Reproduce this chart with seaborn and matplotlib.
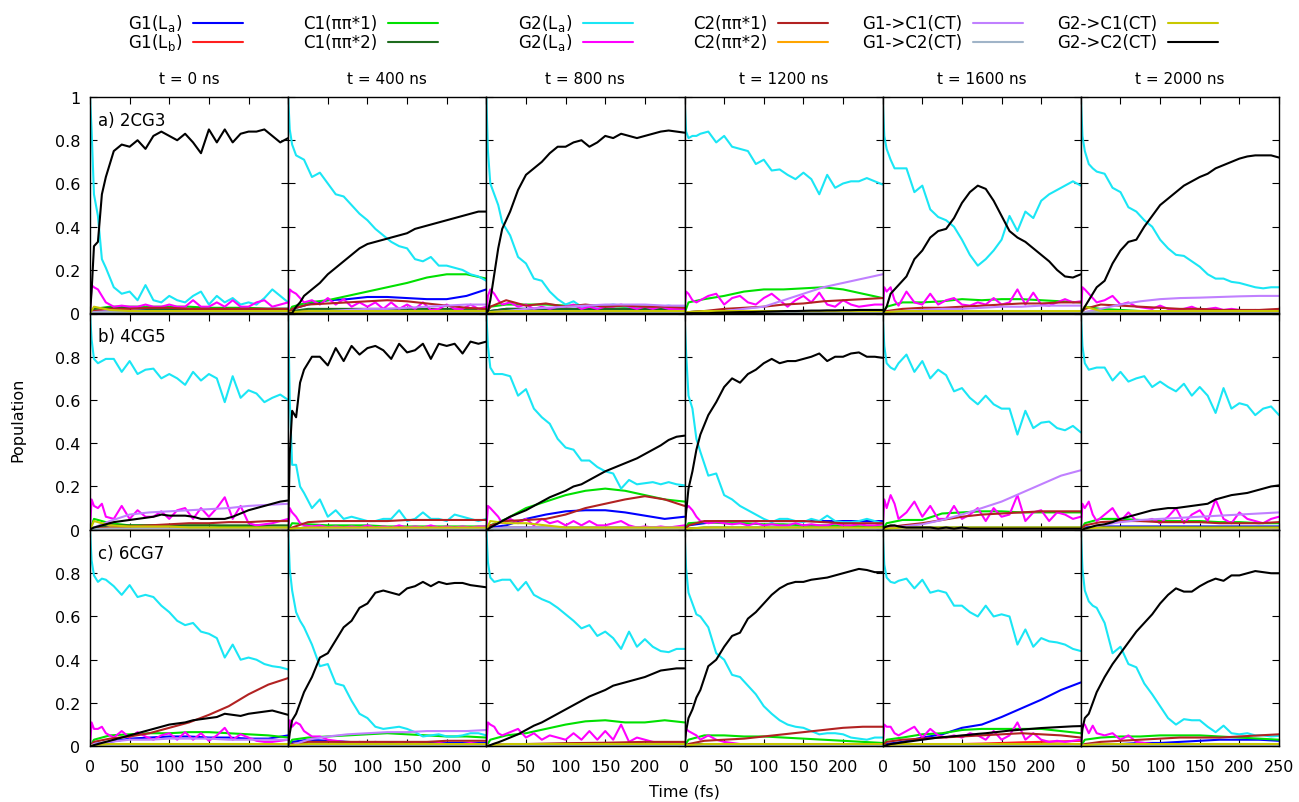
import matplotlib
matplotlib.use("Agg")
import matplotlib.pyplot as plt
import seaborn as sns
import pandas as pd
from matplotlib.lines import Line2D

# ---------------- data ----------------
T_FINE = [0, 2, 5, 10, 15, 20, 30, 40, 50, 60, 70, 80, 90, 100, 110, 120, 130,
          140, 150, 160, 170, 180, 190, 200, 210, 220, 230, 240, 250]
T_COARSE = [0, 5, 25, 50, 75, 100, 125, 150, 175, 200, 225, 250]

COL_TITLES = ["t = 0 ns", "t = 400 ns", "t = 800 ns", "t = 1200 ns", "t = 1600 ns", "t = 2000 ns"]
ROW_LABELS = ["a) 2CG3", "b) 4CG5", "c) 6CG7"]
X_TICKS = [0, 50, 100, 150, 200, 250]
Y_TICKS = [0, 0.2, 0.4, 0.6, 0.8, 1.0]
Y_TICK_LABELS = ["0", "0.2", "0.4", "0.6", "0.8", "1"]

KEYS = ["G1La", "G1Lb", "C1a", "C1b", "G2La", "G2Lb", "C2a", "C2b", "G1C1", "G1C2", "G2C1", "G2C2"]
LABELS = [r"G1(L$_\mathrm{a}$)", r"G1(L$_\mathrm{b}$)", "C1(\u03c0\u03c0*1)", "C1(\u03c0\u03c0*2)",
          r"G2(L$_\mathrm{a}$)", r"G2(L$_\mathrm{a}$)", "C2(\u03c0\u03c0*1)", "C2(\u03c0\u03c0*2)",
          "G1->C1(CT)", "G1->C2(CT)", "G2->C1(CT)", "G2->C2(CT)"]
COLORS = ["#0000ff", "#ff1f1f", "#00e000", "#1e6b1e", "#1ae6f5", "#ff00ff",
          "#b22222", "#ffa500", "#c080ff", "#a0b4c8", "#c8c800", "#000000"]
FINE_KEYS = {"G2La", "G2Lb", "G2C2"}

FLAT_005 = [0, 0.003, 0.005, 0.005, 0.005, 0.005, 0.005, 0.005, 0.005, 0.005, 0.005, 0.005]
FLAT_01 = [0, 0.005, 0.01, 0.01, 0.01, 0.01, 0.01, 0.01, 0.01, 0.01, 0.01, 0.01]
FLAT_02 = [0, 0.01, 0.02, 0.02, 0.02, 0.02, 0.02, 0.02, 0.02, 0.02, 0.02, 0.02]
DEFAULTS = {"G1La": FLAT_005, "G1Lb": FLAT_005, "C1a": FLAT_02, "C1b": FLAT_01,
            "C2a": FLAT_02, "C2b": FLAT_005, "G1C1": FLAT_01, "G1C2": FLAT_005, "G2C1": FLAT_01}

# ---- row a, t = 0 ns
a0_G2La = [1.0, 0.85, 0.55, 0.45, 0.25, 0.21, 0.12, 0.09, 0.10, 0.06, 0.13, 0.06, 0.05, 0.08, 0.06, 0.05,
           0.08, 0.10, 0.04, 0.08, 0.05, 0.07, 0.04, 0.05, 0.04, 0.07, 0.11, 0.08, 0.05]
a0_G2C2 = [0, 0.10, 0.31, 0.33, 0.55, 0.63, 0.75, 0.78, 0.77, 0.80, 0.76, 0.82, 0.84, 0.82, 0.80, 0.83,
           0.79, 0.74, 0.85, 0.79, 0.85, 0.79, 0.83, 0.84, 0.84, 0.85, 0.82, 0.79, 0.81]
a0_G2Lb = [0, 0.13, 0.12, 0.11, 0.08, 0.05, 0.03, 0.035, 0.03, 0.03, 0.04, 0.03, 0.03, 0.04, 0.03, 0.03,
           0.06, 0.03, 0.03, 0.05, 0.03, 0.06, 0.03, 0.03, 0.05, 0.06, 0.03, 0.04, 0.05]
a0_G1La = [0, 0.005, 0.01, 0.01, 0.015, 0.015, 0.015, 0.02, 0.02, 0.02, 0.02, 0.02]
a0_C1a = [0, 0.02, 0.03, 0.03, 0.03, 0.03, 0.03, 0.025, 0.025, 0.025, 0.02, 0.02]
a0_C1b = [0, 0.02, 0.025, 0.025, 0.02, 0.02, 0.02, 0.02, 0.02, 0.02, 0.02, 0.02]
a0_C2a = [0, 0.01, 0.02, 0.02, 0.025, 0.025, 0.02, 0.02, 0.02, 0.02, 0.02, 0.02]
a0_G2C1 = [0, 0.03, 0.015, 0.01, 0.01, 0.01, 0.01, 0.01, 0.01, 0.01, 0.01, 0.01]

# ---- row a, t = 400 ns
a1_G2La = [1.0, 0.85, 0.78, 0.73, 0.72, 0.71, 0.63, 0.65, 0.60, 0.55, 0.54, 0.50, 0.46, 0.43, 0.39, 0.36,
           0.33, 0.31, 0.30, 0.25, 0.24, 0.26, 0.22, 0.22, 0.21, 0.20, 0.18, 0.17, 0.15]
a1_G2C2 = [0, 0, 0, 0.03, 0.05, 0.08, 0.11, 0.14, 0.18, 0.21, 0.24, 0.27, 0.30, 0.32, 0.33, 0.34,
           0.35, 0.36, 0.37, 0.39, 0.40, 0.41, 0.42, 0.43, 0.44, 0.45, 0.46, 0.47, 0.47]
a1_G2Lb = [0, 0.11, 0.10, 0.09, 0.07, 0.05, 0.06, 0.04, 0.07, 0.04, 0.065, 0.03, 0.05, 0.03, 0.05, 0.02,
           0.05, 0.02, 0.04, 0.02, 0.05, 0.015, 0.02, 0.04, 0.02, 0.02, 0.04, 0.02, 0.03]
a1_G1La = [0, 0.02, 0.04, 0.06, 0.065, 0.075, 0.075, 0.07, 0.065, 0.065, 0.08, 0.11]
a1_G1Lb = FLAT_01
a1_C1a = [0, 0.03, 0.05, 0.06, 0.08, 0.10, 0.12, 0.14, 0.165, 0.18, 0.18, 0.16]
a1_C1b = FLAT_02
a1_C2a = [0, 0.02, 0.04, 0.045, 0.05, 0.055, 0.06, 0.055, 0.045, 0.035, 0.025, 0.02]
a1_G1C1 = [0, 0.002, 0.005, 0.01, 0.015, 0.02, 0.02, 0.025, 0.03, 0.035, 0.04, 0.04]

# ---- row a, t = 800 ns
a2_G2La = [1.0, 0.75, 0.60, 0.55, 0.50, 0.42, 0.36, 0.26, 0.23, 0.16, 0.15, 0.10, 0.065, 0.04, 0.055, 0.03,
           0.035, 0.03, 0.035, 0.04, 0.035, 0.03, 0.03, 0.03, 0.035, 0.03, 0.035, 0.03, 0.03]
a2_G2C2 = [0, 0.01, 0.06, 0.18, 0.30, 0.39, 0.47, 0.57, 0.64, 0.67, 0.70, 0.74, 0.77, 0.77, 0.79, 0.80,
           0.77, 0.79, 0.82, 0.81, 0.83, 0.82, 0.81, 0.82, 0.83, 0.84, 0.845, 0.84, 0.835]
a2_G2Lb = [0, 0.08, 0.11, 0.09, 0.06, 0.04, 0.05, 0.03, 0.04, 0.02, 0.03, 0.02, 0.03, 0.03, 0.04, 0.02,
           0.03, 0.02, 0.03, 0.03, 0.04, 0.03, 0.02, 0.03, 0.02, 0.03, 0.02, 0.02, 0.02]
a2_G1La = [0, 0.01, 0.02, 0.02, 0.02, 0.02, 0.02, 0.02, 0.02, 0.015, 0.015, 0.015]
a2_G1Lb = FLAT_01
a2_C1a = [0, 0.03, 0.04, 0.04, 0.04, 0.035, 0.035, 0.035, 0.03, 0.03, 0.03, 0.03]
a2_C1b = FLAT_02
a2_C2a = [0, 0.03, 0.06, 0.035, 0.045, 0.03, 0.04, 0.03, 0.035, 0.03, 0.03, 0.025]
a2_G1C1 = [0, 0.005, 0.01, 0.02, 0.025, 0.03, 0.035, 0.04, 0.04, 0.04, 0.035, 0.035]

# ---- row a, t = 1200 ns
a3_G2La = [1.0, 0.84, 0.81, 0.82, 0.82, 0.83, 0.84, 0.79, 0.82, 0.77, 0.76, 0.75, 0.69, 0.71, 0.66, 0.665,
           0.64, 0.62, 0.65, 0.62, 0.55, 0.64, 0.58, 0.60, 0.61, 0.61, 0.625, 0.61, 0.595]
a3_G2C2 = [0, 0, 0, 0, 0, 0, 0, 0.002, 0.003, 0.004, 0.005, 0.005, 0.006, 0.007, 0.008, 0.009,
           0.01, 0.01, 0.011, 0.012, 0.012, 0.013, 0.013, 0.014, 0.014, 0.015, 0.015, 0.015, 0.015]
a3_G2Lb = [0, 0.10, 0.09, 0.06, 0.05, 0.06, 0.08, 0.09, 0.04, 0.07, 0.08, 0.05, 0.04, 0.07, 0.09, 0.06,
           0.03, 0.06, 0.08, 0.05, 0.095, 0.04, 0.03, 0.06, 0.04, 0.03, 0.035, 0.04, 0.04]
a3_C1a = [0, 0.05, 0.065, 0.08, 0.10, 0.11, 0.11, 0.115, 0.12, 0.11, 0.09, 0.07]
a3_C2a = [0, 0.005, 0.01, 0.02, 0.025, 0.03, 0.04, 0.045, 0.055, 0.06, 0.065, 0.07]
a3_G1C1 = [0, 0.002, 0.005, 0.01, 0.02, 0.03, 0.06, 0.09, 0.12, 0.14, 0.16, 0.18]

# ---- row a, t = 1600 ns
a4_G2La = [1.0, 0.82, 0.76, 0.71, 0.67, 0.67, 0.67, 0.56, 0.59, 0.48, 0.445, 0.43, 0.40, 0.34, 0.27, 0.22,
           0.25, 0.29, 0.34, 0.45, 0.38, 0.47, 0.44, 0.52, 0.55, 0.57, 0.59, 0.61, 0.59]
a4_G2C2 = [0, 0.01, 0.03, 0.09, 0.11, 0.13, 0.17, 0.25, 0.29, 0.35, 0.38, 0.39, 0.44, 0.51, 0.56, 0.59,
           0.575, 0.52, 0.45, 0.38, 0.35, 0.33, 0.30, 0.27, 0.24, 0.20, 0.17, 0.165, 0.18]
a4_G2Lb = [0, 0.12, 0.10, 0.12, 0.06, 0.035, 0.10, 0.05, 0.04, 0.09, 0.04, 0.06, 0.07, 0.04, 0.035, 0.05,
           0.04, 0.07, 0.04, 0.05, 0.11, 0.04, 0.095, 0.04, 0.035, 0.05, 0.065, 0.05, 0.055]
a4_C1a = [0, 0.03, 0.05, 0.05, 0.055, 0.065, 0.06, 0.065, 0.065, 0.06, 0.055, 0.05]
a4_C2a = [0, 0.01, 0.02, 0.025, 0.025, 0.03, 0.035, 0.04, 0.045, 0.045, 0.05, 0.05]
a4_G1C1 = [0, 0.005, 0.01, 0.015, 0.02, 0.02, 0.025, 0.03, 0.03, 0.035, 0.035, 0.035]

# ---- row a, t = 2000 ns
a5_G2La = [1.0, 0.82, 0.75, 0.69, 0.67, 0.655, 0.645, 0.58, 0.56, 0.49, 0.47, 0.43, 0.40, 0.34, 0.30, 0.27,
           0.265, 0.24, 0.215, 0.18, 0.16, 0.16, 0.145, 0.14, 0.13, 0.12, 0.115, 0.12, 0.12]
a5_G2C2 = [0, 0.01, 0.03, 0.06, 0.09, 0.12, 0.15, 0.23, 0.29, 0.33, 0.34, 0.40, 0.45, 0.50, 0.53, 0.56,
           0.59, 0.61, 0.63, 0.645, 0.67, 0.685, 0.70, 0.715, 0.725, 0.73, 0.73, 0.73, 0.72]
a5_G2Lb = [0, 0.12, 0.11, 0.09, 0.07, 0.05, 0.06, 0.08, 0.04, 0.05, 0.03, 0.025, 0.02, 0.035, 0.02, 0.015,
           0.02, 0.03, 0.015, 0.02, 0.025, 0.015, 0.02, 0.015, 0.01, 0.015, 0.01, 0.015, 0.01]
a5_C1a = [0, 0.03, 0.02, 0.015, 0.01, 0.01, 0.01, 0.01, 0.01, 0.01, 0.01, 0.01]
a5_C2a = [0, 0.02, 0.04, 0.035, 0.03, 0.025, 0.02, 0.02, 0.015, 0.015, 0.015, 0.02]
a5_G1C1 = [0, 0.005, 0.02, 0.04, 0.055, 0.065, 0.07, 0.072, 0.075, 0.078, 0.08, 0.08]
a5_G2C1 = [0, 0.03, 0.01, 0.01, 0.01, 0.01, 0.01, 0.01, 0.01, 0.01, 0.01, 0.01]

# ---- row b, t = 0 ns
b0_G2La = [1.0, 0.88, 0.79, 0.77, 0.78, 0.79, 0.79, 0.73, 0.78, 0.72, 0.74, 0.745, 0.70, 0.72, 0.70, 0.67,
           0.73, 0.69, 0.72, 0.70, 0.59, 0.71, 0.61, 0.645, 0.63, 0.59, 0.61, 0.625, 0.60]
b0_G2C2 = [0, 0.005, 0.01, 0.015, 0.02, 0.025, 0.035, 0.04, 0.045, 0.05, 0.055, 0.06, 0.07, 0.065, 0.065, 0.065,
           0.06, 0.05, 0.05, 0.05, 0.05, 0.06, 0.075, 0.09, 0.10, 0.11, 0.12, 0.13, 0.135]
b0_G2Lb = [0, 0.14, 0.11, 0.10, 0.12, 0.06, 0.05, 0.11, 0.05, 0.09, 0.06, 0.06, 0.085, 0.05, 0.09, 0.10,
           0.05, 0.10, 0.06, 0.10, 0.15, 0.05, 0.11, 0.03, 0.02, 0.025, 0.03, 0.04, 0.05]
b0_C1a = [0, 0.05, 0.03, 0.02, 0.02, 0.02, 0.02, 0.02, 0.015, 0.015, 0.01, 0.01]
b0_C1b = FLAT_02
b0_C2a = [0, 0.005, 0.01, 0.015, 0.02, 0.025, 0.03, 0.03, 0.035, 0.035, 0.04, 0.04]
b0_G1C1 = [0, 0.01, 0.04, 0.07, 0.08, 0.085, 0.09, 0.095, 0.10, 0.11, 0.115, 0.12]
b0_G2C1 = [0, 0.04, 0.02, 0.015, 0.015, 0.015, 0.01, 0.01, 0.01, 0.01, 0.01, 0.01]

# ---- row b, t = 400 ns
b1_G2La = [1.0, 0.6, 0.30, 0.30, 0.20, 0.17, 0.10, 0.14, 0.06, 0.09, 0.05, 0.06, 0.05, 0.04, 0.04, 0.05,
           0.05, 0.09, 0.04, 0.05, 0.08, 0.05, 0.05, 0.04, 0.07, 0.06, 0.05, 0.04, 0.05]
b1_G2C2 = [0, 0.35, 0.55, 0.52, 0.68, 0.74, 0.80, 0.80, 0.76, 0.84, 0.78, 0.85, 0.81, 0.84, 0.85, 0.83,
           0.79, 0.86, 0.82, 0.83, 0.86, 0.79, 0.86, 0.85, 0.86, 0.815, 0.87, 0.86, 0.87]
b1_G2Lb = [0, 0.10, 0.08, 0.06, 0.03, 0.02, 0.015, 0.02, 0.01, 0.015, 0.01, 0.015, 0.01, 0.02, 0.01, 0.015,
           0.01, 0.02, 0.01, 0.015, 0.01, 0.02, 0.01, 0.015, 0.01, 0.015, 0.01, 0.015, 0.015]
b1_G1La = FLAT_01
b1_C1a = [0, 0.03, 0.025, 0.02, 0.02, 0.02, 0.015, 0.015, 0.015, 0.015, 0.015, 0.015]
b1_C2a = [0, 0.01, 0.035, 0.04, 0.04, 0.04, 0.04, 0.045, 0.045, 0.045, 0.045, 0.045]
b1_G1C1 = FLAT_005

# ---- row b, t = 800 ns
b2_G2La = [1.0, 0.85, 0.75, 0.72, 0.72, 0.72, 0.71, 0.62, 0.65, 0.56, 0.52, 0.49, 0.42, 0.38, 0.37, 0.32,
           0.32, 0.29, 0.27, 0.26, 0.19, 0.23, 0.21, 0.215, 0.22, 0.21, 0.22, 0.21, 0.205]
b2_G2C2 = [0, 0.002, 0.01, 0.02, 0.03, 0.04, 0.06, 0.075, 0.09, 0.11, 0.13, 0.15, 0.165, 0.18, 0.20, 0.21,
           0.23, 0.25, 0.27, 0.285, 0.30, 0.315, 0.33, 0.35, 0.37, 0.39, 0.415, 0.43, 0.435]
b2_G2Lb = [0, 0.11, 0.10, 0.08, 0.06, 0.03, 0.05, 0.03, 0.05, 0.02, 0.05, 0.03, 0.04, 0.02, 0.04, 0.02,
           0.04, 0.02, 0.02, 0.03, 0.04, 0.02, 0.01, 0.015, 0.01, 0.015, 0.01, 0.015, 0.02]
b2_G1La = [0, 0.01, 0.02, 0.05, 0.07, 0.085, 0.09, 0.09, 0.08, 0.065, 0.05, 0.06]
b2_C1a = [0, 0.02, 0.05, 0.10, 0.13, 0.16, 0.18, 0.19, 0.18, 0.16, 0.14, 0.13]
b2_C2a = [0, 0.02, 0.04, 0.045, 0.05, 0.07, 0.10, 0.12, 0.14, 0.155, 0.14, 0.11]
b2_G2C1 = [0, 0.04, 0.03, 0.03, 0.02, 0.01, 0.01, 0.01, 0.01, 0.01, 0.01, 0.01]

# ---- row b, t = 1200 ns
b3_G2La = [1.0, 0.82, 0.62, 0.56, 0.42, 0.36, 0.25, 0.26, 0.16, 0.14, 0.11, 0.09, 0.07, 0.05, 0.035, 0.05,
           0.05, 0.04, 0.035, 0.05, 0.04, 0.065, 0.04, 0.035, 0.035, 0.04, 0.05, 0.04, 0.03]
b3_G2C2 = [0, 0.08, 0.19, 0.27, 0.37, 0.44, 0.53, 0.59, 0.66, 0.70, 0.68, 0.72, 0.74, 0.77, 0.79, 0.77,
           0.78, 0.78, 0.79, 0.80, 0.815, 0.78, 0.80, 0.80, 0.815, 0.82, 0.80, 0.80, 0.795]
b3_G2Lb = [0, 0.10, 0.11, 0.09, 0.06, 0.04, 0.03, 0.035, 0.03, 0.025, 0.03, 0.02, 0.03, 0.02, 0.025, 0.02,
           0.02, 0.03, 0.02, 0.025, 0.02, 0.02, 0.03, 0.02, 0.02, 0.025, 0.02, 0.02, 0.025]
b3_G1La = [0, 0.02, 0.03, 0.04, 0.04, 0.04, 0.04, 0.04, 0.04, 0.04, 0.04, 0.04]
b3_C1a = [0, 0.03, 0.035, 0.03, 0.03, 0.025, 0.025, 0.02, 0.02, 0.02, 0.015, 0.015]
b3_C2a = [0, 0.02, 0.04, 0.04, 0.04, 0.04, 0.04, 0.04, 0.035, 0.03, 0.03, 0.03]
b3_G1C1 = FLAT_005

# ---- row b, t = 1600 ns
b4_G2La = [1.0, 0.85, 0.77, 0.75, 0.74, 0.77, 0.81, 0.73, 0.78, 0.70, 0.74, 0.715, 0.64, 0.655, 0.61, 0.58,
           0.62, 0.58, 0.56, 0.56, 0.44, 0.55, 0.47, 0.495, 0.50, 0.47, 0.46, 0.48, 0.45]
b4_G2C2 = [0, 0.01, 0.015, 0.02, 0.02, 0.015, 0.01, 0.01, 0.01, 0.01, 0.005, 0.01, 0.005, 0.01, 0.005, 0.005,
           0.005, 0.005, 0.005, 0.005, 0.005, 0.005, 0.005, 0.005, 0.005, 0.005, 0.005, 0.005, 0.005]
b4_G2Lb = [0, 0.14, 0.10, 0.16, 0.12, 0.05, 0.08, 0.13, 0.06, 0.11, 0.05, 0.05, 0.11, 0.05, 0.07, 0.10,
           0.04, 0.10, 0.06, 0.07, 0.16, 0.04, 0.08, 0.09, 0.04, 0.08, 0.07, 0.05, 0.06]
b4_C1a = [0, 0.03, 0.045, 0.045, 0.075, 0.08, 0.085, 0.085, 0.08, 0.08, 0.08, 0.08]
b4_C2a = [0, 0.01, 0.02, 0.03, 0.045, 0.06, 0.07, 0.075, 0.08, 0.085, 0.085, 0.085]
b4_G1C1 = [0, 0.005, 0.015, 0.025, 0.045, 0.07, 0.10, 0.13, 0.17, 0.21, 0.25, 0.275]

# ---- row b, t = 2000 ns
b5_G2La = [1.0, 0.85, 0.77, 0.74, 0.745, 0.75, 0.75, 0.69, 0.73, 0.685, 0.70, 0.71, 0.66, 0.685, 0.66, 0.64,
           0.675, 0.62, 0.66, 0.62, 0.54, 0.655, 0.56, 0.585, 0.575, 0.53, 0.56, 0.57, 0.53]
b5_G2C2 = [0, 0.0, 0.005, 0.01, 0.015, 0.02, 0.025, 0.035, 0.05, 0.06, 0.07, 0.08, 0.09, 0.095, 0.10, 0.10,
           0.105, 0.11, 0.115, 0.12, 0.14, 0.15, 0.16, 0.165, 0.17, 0.18, 0.19, 0.20, 0.205]
b5_G2Lb = [0, 0.12, 0.10, 0.13, 0.07, 0.04, 0.07, 0.10, 0.04, 0.08, 0.04, 0.04, 0.05, 0.03, 0.06, 0.10,
           0.03, 0.07, 0.09, 0.04, 0.14, 0.05, 0.03, 0.08, 0.05, 0.04, 0.03, 0.05, 0.06]
b5_G1La = [0, 0.01, 0.015, 0.015, 0.015, 0.015, 0.015, 0.015, 0.015, 0.015, 0.015, 0.015]
b5_C1a = [0, 0.03, 0.05, 0.05, 0.045, 0.04, 0.04, 0.04, 0.035, 0.035, 0.03, 0.03]
b5_C2a = [0, 0.02, 0.035, 0.04, 0.04, 0.035, 0.035, 0.035, 0.03, 0.03, 0.03, 0.035]
b5_G1C1 = [0, 0.005, 0.02, 0.035, 0.045, 0.05, 0.055, 0.06, 0.065, 0.07, 0.075, 0.08]

# ---- row c, t = 0 ns
c0_G2La = [1.0, 0.86, 0.79, 0.76, 0.775, 0.77, 0.74, 0.70, 0.745, 0.69, 0.70, 0.69, 0.65, 0.62, 0.58, 0.56,
           0.57, 0.53, 0.52, 0.50, 0.41, 0.47, 0.40, 0.41, 0.40, 0.38, 0.37, 0.365, 0.355]
c0_G2C2 = [0, 0.0, 0.005, 0.01, 0.015, 0.02, 0.03, 0.04, 0.05, 0.06, 0.07, 0.08, 0.09, 0.10, 0.105, 0.11,
           0.12, 0.125, 0.13, 0.135, 0.15, 0.145, 0.14, 0.15, 0.155, 0.16, 0.165, 0.155, 0.145]
c0_G2Lb = [0, 0.11, 0.08, 0.08, 0.09, 0.06, 0.04, 0.07, 0.04, 0.065, 0.045, 0.03, 0.05, 0.06, 0.03, 0.065,
           0.03, 0.06, 0.025, 0.05, 0.085, 0.03, 0.055, 0.04, 0.025, 0.02, 0.02, 0.025, 0.03]
c0_G1La = [0, 0.01, 0.02, 0.035, 0.04, 0.045, 0.045, 0.04, 0.04, 0.035, 0.035, 0.05]
c0_C1a = [0, 0.03, 0.05, 0.055, 0.06, 0.06, 0.065, 0.065, 0.06, 0.055, 0.05, 0.04]
c0_C2a = [0, 0.02, 0.035, 0.045, 0.06, 0.085, 0.11, 0.145, 0.185, 0.24, 0.285, 0.315]
c0_G1C1 = [0, 0.01, 0.02, 0.03, 0.03, 0.035, 0.035, 0.035, 0.03, 0.03, 0.03, 0.03]

# ---- row c, t = 400 ns
c1_G2La = [1.0, 0.82, 0.72, 0.62, 0.58, 0.55, 0.47, 0.37, 0.38, 0.29, 0.28, 0.21, 0.15, 0.13, 0.09, 0.08,
           0.085, 0.09, 0.08, 0.065, 0.045, 0.05, 0.055, 0.045, 0.045, 0.05, 0.06, 0.06, 0.05]
c1_G2C2 = [0, 0.06, 0.12, 0.15, 0.20, 0.25, 0.32, 0.41, 0.43, 0.49, 0.55, 0.58, 0.64, 0.66, 0.71, 0.72,
           0.71, 0.70, 0.73, 0.74, 0.76, 0.74, 0.76, 0.75, 0.755, 0.755, 0.745, 0.74, 0.735]
c1_G2Lb = [0, 0.12, 0.09, 0.11, 0.10, 0.07, 0.045, 0.045, 0.03, 0.025, 0.02, 0.015, 0.02, 0.015, 0.02, 0.015,
           0.01, 0.015, 0.01, 0.015, 0.01, 0.01, 0.015, 0.01, 0.01, 0.01, 0.015, 0.01, 0.01]
c1_G1La = [0, 0.02, 0.03, 0.025, 0.02, 0.015, 0.015, 0.015, 0.015, 0.015, 0.015, 0.015]
c1_C1a = [0, 0.03, 0.04, 0.045, 0.05, 0.055, 0.06, 0.055, 0.05, 0.045, 0.045, 0.04]
c1_C2a = [0, 0.01, 0.02, 0.02, 0.02, 0.02, 0.02, 0.02, 0.02, 0.025, 0.025, 0.025]
c1_G1C1 = [0, 0.005, 0.03, 0.045, 0.055, 0.06, 0.065, 0.065, 0.07, 0.07, 0.07, 0.075]

# ---- row c, t = 800 ns
c2_G2La = [1.0, 0.85, 0.78, 0.76, 0.765, 0.77, 0.77, 0.72, 0.76, 0.70, 0.68, 0.665, 0.64, 0.61, 0.58, 0.545,
           0.56, 0.51, 0.53, 0.50, 0.45, 0.53, 0.46, 0.495, 0.46, 0.44, 0.435, 0.45, 0.45]
c2_G2C2 = [0, 0.0, 0.005, 0.012, 0.018, 0.025, 0.04, 0.055, 0.075, 0.095, 0.11, 0.13, 0.15, 0.17, 0.19, 0.21,
           0.23, 0.245, 0.26, 0.28, 0.29, 0.30, 0.31, 0.32, 0.335, 0.35, 0.355, 0.36, 0.36]
c2_G2Lb = [0, 0.11, 0.10, 0.09, 0.06, 0.05, 0.065, 0.08, 0.04, 0.06, 0.03, 0.05, 0.04, 0.03, 0.06, 0.03,
           0.07, 0.03, 0.07, 0.03, 0.10, 0.02, 0.04, 0.03, 0.02, 0.015, 0.015, 0.015, 0.015]
c2_G1La = FLAT_01
c2_C1a = [0, 0.03, 0.05, 0.06, 0.08, 0.10, 0.115, 0.12, 0.11, 0.11, 0.12, 0.11]
c2_C2a = [0, 0.005, 0.01, 0.01, 0.012, 0.014, 0.015, 0.016, 0.018, 0.02, 0.02, 0.02]

# ---- row c, t = 1200 ns
c3_G2La = [1.0, 0.82, 0.71, 0.66, 0.61, 0.60, 0.55, 0.43, 0.40, 0.33, 0.32, 0.28, 0.24, 0.185, 0.15, 0.12,
           0.10, 0.09, 0.085, 0.07, 0.055, 0.06, 0.06, 0.055, 0.04, 0.035, 0.03, 0.04, 0.04]
c3_G2C2 = [0, 0.07, 0.13, 0.17, 0.225, 0.26, 0.37, 0.40, 0.46, 0.51, 0.525, 0.59, 0.62, 0.66, 0.70, 0.73,
           0.75, 0.76, 0.76, 0.77, 0.775, 0.78, 0.79, 0.80, 0.81, 0.82, 0.815, 0.805, 0.805]
c3_G2Lb = [0, 0.08, 0.07, 0.06, 0.05, 0.03, 0.05, 0.03, 0.02, 0.015, 0.01, 0.01, 0.01, 0.01, 0.01, 0.01,
           0.01, 0.01, 0.01, 0.01, 0.01, 0.01, 0.01, 0.01, 0.01, 0.01, 0.01, 0.01, 0.01]
c3_G1La = FLAT_01
c3_C1a = [0, 0.03, 0.05, 0.05, 0.045, 0.045, 0.04, 0.035, 0.03, 0.025, 0.02, 0.015]
c3_C2a = [0, 0.01, 0.025, 0.03, 0.035, 0.045, 0.055, 0.065, 0.075, 0.085, 0.09, 0.09]
c3_G1C1 = FLAT_005

# ---- row c, t = 1600 ns
c4_G2La = [1.0, 0.84, 0.78, 0.76, 0.755, 0.765, 0.775, 0.73, 0.77, 0.71, 0.72, 0.71, 0.65, 0.65, 0.62, 0.60,
           0.65, 0.60, 0.61, 0.60, 0.47, 0.54, 0.46, 0.50, 0.485, 0.48, 0.47, 0.45, 0.44]
c4_G2C2 = [0, 0.002, 0.005, 0.01, 0.012, 0.015, 0.02, 0.025, 0.03, 0.035, 0.04, 0.043, 0.046, 0.05, 0.053, 0.057,
           0.06, 0.064, 0.068, 0.072, 0.075, 0.078, 0.081, 0.084, 0.086, 0.088, 0.09, 0.092, 0.093]
c4_G2Lb = [0, 0.10, 0.09, 0.09, 0.06, 0.05, 0.07, 0.09, 0.04, 0.08, 0.05, 0.04, 0.05, 0.04, 0.06, 0.05,
           0.03, 0.07, 0.03, 0.05, 0.11, 0.03, 0.06, 0.03, 0.02, 0.025, 0.02, 0.025, 0.03]
c4_G1La = [0, 0.01, 0.02, 0.04, 0.055, 0.085, 0.10, 0.135, 0.175, 0.215, 0.26, 0.295]
c4_G1Lb = [0, 0.002, 0.005, 0.005, 0.008, 0.01, 0.012, 0.015, 0.018, 0.02, 0.022, 0.025]
c4_C1a = [0, 0.03, 0.04, 0.055, 0.06, 0.075, 0.08, 0.08, 0.08, 0.08, 0.07, 0.06]
c4_C2a = [0, 0.02, 0.03, 0.035, 0.04, 0.045, 0.05, 0.055, 0.06, 0.055, 0.05, 0.04]

# ---- row c, t = 2000 ns
c5_G2La = [1.0, 0.82, 0.72, 0.67, 0.65, 0.64, 0.57, 0.43, 0.46, 0.38, 0.365, 0.29, 0.24, 0.185, 0.13, 0.10,
           0.125, 0.12, 0.12, 0.09, 0.065, 0.095, 0.06, 0.055, 0.06, 0.05, 0.05, 0.045, 0.048]
c5_G2C2 = [0, 0.08, 0.13, 0.15, 0.20, 0.25, 0.32, 0.38, 0.43, 0.48, 0.53, 0.57, 0.61, 0.66, 0.70, 0.73,
           0.715, 0.715, 0.74, 0.76, 0.775, 0.765, 0.79, 0.79, 0.80, 0.81, 0.805, 0.80, 0.80]
c5_G2Lb = [0, 0.10, 0.10, 0.06, 0.095, 0.06, 0.05, 0.06, 0.03, 0.05, 0.02, 0.015, 0.01, 0.01, 0.01, 0.01,
           0.01, 0.01, 0.01, 0.01, 0.01, 0.01, 0.01, 0.01, 0.01, 0.01, 0.01, 0.01, 0.01]
c5_G1La = [0, 0.005, 0.01, 0.01, 0.015, 0.015, 0.02, 0.025, 0.03, 0.03, 0.03, 0.025]
c5_C1a = [0, 0.03, 0.04, 0.045, 0.045, 0.05, 0.05, 0.05, 0.045, 0.04, 0.035, 0.03]
c5_C2a = [0, 0.01, 0.02, 0.025, 0.03, 0.035, 0.04, 0.04, 0.04, 0.045, 0.05, 0.055]


def series(panel, key):
    name = f"{panel}_{key}"
    vals = globals().get(name, DEFAULTS.get(key))
    t = T_FINE if key in FINE_KEYS else T_COARSE
    if len(vals) != len(t):
        raise ValueError(f"{name}: {len(vals)} values, expected {len(t)}")
    return t, vals


# ---------------- figure ----------------
sns.set_theme(style="ticks")
plt.rcParams["font.family"] = ["DejaVu Sans"]
plt.rcParams["mathtext.fontset"] = "dejavusans"
plt.rcParams["axes.edgecolor"] = "black"
plt.rcParams["axes.linewidth"] = 1.0
plt.rcParams["text.color"] = "black"
plt.rcParams["xtick.color"] = "black"
plt.rcParams["ytick.color"] = "black"

W, H = 1299, 803
fig = plt.figure(figsize=(W / 100, H / 100), dpi=100)

LEFT0, PW = 90.0, 198.17
ROW_TOP = [98.0, 314.5, 531.0]
PH = 216.2
palette = dict(zip(KEYS, COLORS))
ROWS = ["a", "b", "c"]

for r in range(3):
    for c in range(6):
        panel = f"{ROWS[r]}{c}"
        x0 = LEFT0 + PW * c
        ax = fig.add_axes([x0 / W, 1 - (ROW_TOP[r] + PH) / H, PW / W, PH / H])
        recs = []
        for key in KEYS:
            t, v = series(panel, key)
            recs += [(tt, vv, key) for tt, vv in zip(t, v)]
        df = pd.DataFrame(recs, columns=["t", "p", "state"])
        sns.lineplot(data=df, x="t", y="p", hue="state", hue_order=KEYS, palette=palette,
                     estimator=None, legend=False, linewidth=1.5, ax=ax)
        ax.set_xlim(0, 250)
        ax.set_ylim(0, 1)
        ax.set_xlabel("")
        ax.set_ylabel("")
        ax.set_xticks(X_TICKS)
        ax.set_yticks(Y_TICKS)
        ax.tick_params(direction="in", length=5, width=0.8, top=True, right=True,
                       labelsize=11.5, colors="black")
        ax.tick_params(axis="y", pad=7)
        ax.tick_params(axis="x", pad=9)
        if c == 0:
            labs = list(Y_TICK_LABELS) if r == 0 else Y_TICK_LABELS[:-1] + [""]
            ax.set_yticklabels(labs)
        else:
            ax.tick_params(labelleft=False)
        if r == 2:
            xl = [str(v) for v in X_TICKS]
            if c < 5:
                xl[-1] = ""
            ax.set_xticklabels(xl)
        else:
            ax.tick_params(labelbottom=False)
        for s in ax.spines.values():
            s.set_color("black")
            s.set_linewidth(1.0)
        if c == 0:
            ax.text(0.04, 0.895, ROW_LABELS[r], transform=ax.transAxes, ha="left", va="center",
                    fontsize=12, color="black")
        if r == 0:
            fig.text((x0 + PW / 2) / W, 1 - 80 / H, COL_TITLES[c], ha="center", va="center",
                     fontsize=11, color="black")

fig.text(18 / W, 1 - 420 / H, "Population", rotation=90, ha="center", va="center", fontsize=11.5, color="black")
fig.text(684 / W, 1 - 792 / H, "Time (fs)", ha="center", va="center", fontsize=11.5, color="black")

# legend (labels right-aligned before line samples, 6 columns x 2 rows)
LEG_RIGHT = [182, 377, 572, 767, 962, 1157]
LEG_Y = [24, 42.7]
for i, (lab, col) in enumerate(zip(LABELS, COLORS)):
    cx = LEG_RIGHT[i // 2]
    y = LEG_Y[i % 2]
    fig.text(cx / W, 1 - (y + 5) / H, lab, ha="right", va="baseline", fontsize=12, color="black")
    fig.add_artist(Line2D([(cx + 11) / W, (cx + 61) / W], [1 - y / H, 1 - y / H],
                          transform=fig.transFigure, color=col, linewidth=1.5))

fig.savefig("out.png", dpi=100)
